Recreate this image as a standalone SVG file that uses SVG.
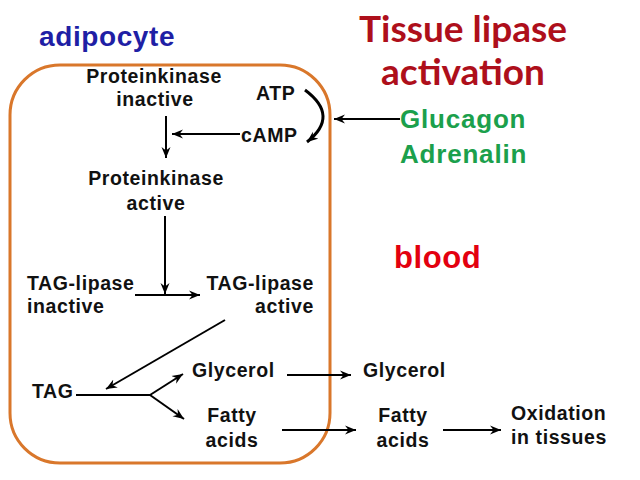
<svg xmlns="http://www.w3.org/2000/svg" width="640" height="480" viewBox="0 0 640 480">
<defs>
<marker id="ah" markerUnits="userSpaceOnUse" markerWidth="12" markerHeight="10" refX="11" refY="4.5" orient="auto" viewBox="0 0 12 9">
<path d="M0,0 L11,4.5 L0,9 L3.5,4.5 z" fill="#000"/>
</marker>
<style>
.t{font-family:"Liberation Sans",Arial,sans-serif;font-weight:bold;font-size:19.5px;letter-spacing:0.6px;fill:#111}
.c{text-anchor:middle}
.e{text-anchor:end}
.ln{stroke:#000;stroke-width:2;fill:none}
.ar{stroke:#000;stroke-width:2;fill:none;marker-end:url(#ah)}
</style>
</defs>
<rect width="640" height="480" fill="#fff"/>
<g id="cell"><rect x="10" y="65" width="320" height="398" rx="50" ry="50" fill="none" stroke="#D9772B" stroke-width="3"/></g>
<g id="title-adipocyte"><text x="39" y="46" style="font-family:'Liberation Sans',Arial,sans-serif;font-weight:bold;font-size:28px;letter-spacing:0.6px" fill="#1F1FA5">adipocyte</text></g>
<g id="title-tissue"><text x="463" y="42" text-anchor="middle" style="font-family:Lato,'Liberation Sans',sans-serif;font-weight:bold;font-size:37px" fill="#AE0F1B">Tissue lipase</text>
<text x="463" y="85" text-anchor="middle" style="font-family:Lato,'Liberation Sans',sans-serif;font-weight:bold;font-size:37px" fill="#AE0F1B">activation</text></g>
<g id="hormones"><text x="400" y="128" style="font-family:'Liberation Sans',Arial,sans-serif;font-weight:bold;font-size:26px;letter-spacing:0.8px" fill="#1BA04C">Glucagon</text>
<text x="400" y="163" style="font-family:'Liberation Sans',Arial,sans-serif;font-weight:bold;font-size:26px;letter-spacing:0.8px" fill="#1BA04C">Adrenalin</text></g>
<g id="blood"><text x="394" y="268" style="font-family:'Liberation Sans',Arial,sans-serif;font-weight:bold;font-size:31px;letter-spacing:0.6px" fill="#E3000F">blood</text></g>
<g id="pk-inactive"><text class="t c" x="154" y="83">Proteinkinase</text><text class="t c" x="155" y="106">inactive</text></g>
<g id="atp"><text class="t" x="256" y="100">ATP</text></g>
<g id="camp"><text class="t" x="241" y="142">cAMP</text></g>
<g id="pk-active"><text class="t c" x="156" y="185">Proteinkinase</text><text class="t c" x="156" y="210">active</text></g>
<g id="tag-lipase-inactive"><text class="t" x="27" y="290">TAG-lipase</text><text class="t" x="27" y="313">inactive</text></g>
<g id="tag-lipase-active"><text class="t e" x="314" y="290">TAG-lipase</text><text class="t e" x="314" y="313">active</text></g>
<g id="tag"><text class="t" x="32" y="398">TAG</text></g>
<g id="glycerol-in"><text class="t" x="192" y="377">Glycerol</text></g>
<g id="fa-in"><text class="t c" x="232" y="422">Fatty</text><text class="t c" x="232" y="447">acids</text></g>
<g id="glycerol-out"><text class="t" x="363" y="377">Glycerol</text></g>
<g id="fa-out"><text class="t c" x="403" y="422">Fatty</text><text class="t c" x="403" y="447">acids</text></g>
<g id="oxidation"><text class="t" x="511" y="420">Oxidation</text><text class="t" x="511" y="444">in tissues</text></g>
<g id="connectors">
<path class="ar" d="M166,116 L166,158"/>
<path class="ar" d="M240,134 L172,134"/>
<path d="M305,90 Q340,116 307,142" stroke="#000" stroke-width="3" fill="none" marker-end="url(#ah)"/>
<path class="ar" d="M400,119 L334,119"/>
<path class="ar" d="M165,216 L165,294"/>
<path class="ar" d="M135,295 L200,295"/>
<path class="ar" d="M225,320 L106,389"/>
<path class="ln" d="M76,395 L150,395"/>
<path class="ar" d="M150,395 L183,374"/>
<path class="ar" d="M150,395 L184,419"/>
<path class="ar" d="M287,375 L351,375"/>
<path class="ar" d="M282,430 L356,430"/>
<path class="ar" d="M443,430 L501,430"/>
</g>
</svg>
